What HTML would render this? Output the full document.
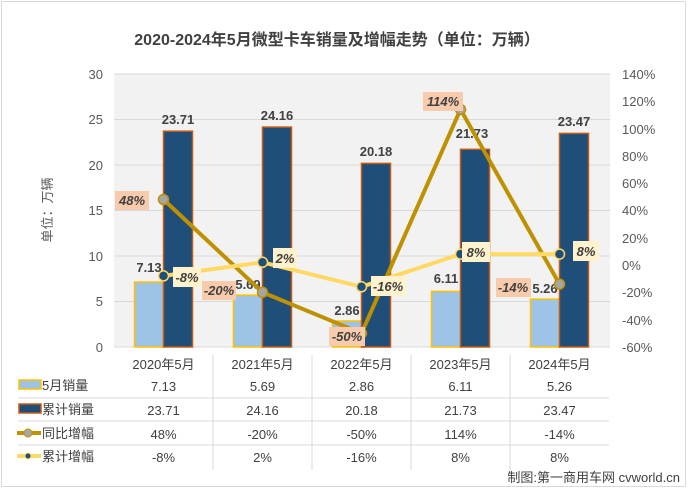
<!DOCTYPE html>
<html><head><meta charset="utf-8"><style>
body{margin:0;background:#fff}
svg{display:block;font-family:"Liberation Sans","Noto Sans CJK SC",sans-serif}
</style></head><body>
<svg width="688" height="490" viewBox="0 0 688 490">
<rect x="1.5" y="1.5" width="684" height="485" fill="#fff" stroke="#d9d9d9"/>
<text x="337" y="45" text-anchor="middle" font-size="16" font-weight="bold" fill="#404040">2020-2024年5月微型卡车销量及增幅走势（单位：万辆）</text>
<rect x="114" y="74" width="496" height="273" fill="#f2f2f2"/>
<g stroke="#d9d9d9" stroke-width="1">
<line x1="114" x2="610" y1="74" y2="74"/><line x1="114" x2="610" y1="119.5" y2="119.5"/><line x1="114" x2="610" y1="165" y2="165"/><line x1="114" x2="610" y1="210.5" y2="210.5"/><line x1="114" x2="610" y1="256" y2="256"/><line x1="114" x2="610" y1="301.5" y2="301.5"/><line x1="114" x2="610" y1="347" y2="347"/>
</g>
<g font-size="13" fill="#595959" text-anchor="end">
<text x="103" y="79">30</text><text x="103" y="124">25</text><text x="103" y="170">20</text><text x="103" y="215">15</text><text x="103" y="261">10</text><text x="103" y="306">5</text><text x="103" y="352">0</text>
</g>
<g font-size="13" fill="#595959" text-anchor="start">
<text x="622" y="79">140%</text><text x="622" y="106">120%</text><text x="622" y="134">100%</text><text x="622" y="161">80%</text><text x="622" y="188">60%</text><text x="622" y="215">40%</text><text x="622" y="243">20%</text><text x="622" y="270">0%</text><text x="622" y="297">-20%</text><text x="622" y="325">-40%</text><text x="622" y="352">-60%</text>
</g>
<text transform="translate(52,210) rotate(-90)" text-anchor="middle" font-size="13" fill="#595959">单位：万辆</text>
<!-- bars -->
<g fill="#9dc3e6" stroke="#ffc000" stroke-width="1.5">
<rect x="134.5" y="282.1" width="29" height="64.9"/>
<rect x="233.5" y="295.2" width="29" height="51.8"/>
<rect x="332.5" y="321" width="29" height="26"/>
<rect x="431.5" y="291.4" width="29" height="55.6"/>
<rect x="530.5" y="299.1" width="29" height="47.9"/>
</g>
<g fill="#1f4e79" stroke="#c55a11" stroke-width="1.5">
<rect x="163.5" y="131.2" width="29" height="215.8"/>
<rect x="262.5" y="127.1" width="29" height="219.9"/>
<rect x="361.5" y="163.4" width="29" height="183.6"/>
<rect x="460.5" y="149.3" width="29" height="197.7"/>
<rect x="559.5" y="133.4" width="29" height="213.6"/>
</g>
<g font-size="13" font-weight="bold" fill="#404040" text-anchor="middle">
<text x="178" y="124">23.71</text><text x="277" y="120">24.16</text><text x="376" y="156">20.18</text><text x="472" y="138">21.73</text><text x="574" y="126">23.47</text>
<text x="149" y="272">7.13</text><text x="248" y="289">5.69</text><text x="347" y="315">2.86</text><text x="446" y="283">6.11</text><text x="545" y="293">5.26</text>
</g>
<!-- lines -->
<polyline points="163.5,199.5 262.5,292.3 361.5,333.3 460.5,109.4 559.5,284.1" fill="none" stroke="#bf9000" stroke-width="4" stroke-linejoin="round"/>
<polyline points="163.5,275.9 262.5,262.3 361.5,286.8 460.5,254.1 559.5,254.1" fill="none" stroke="#ffd966" stroke-width="4" stroke-linejoin="round"/>
<g fill="#a6a6a6" stroke="#bf9000" stroke-width="1.5">
<circle cx="163.5" cy="199.5" r="5"/><circle cx="262.5" cy="292.3" r="5"/><circle cx="361.5" cy="333.3" r="5"/><circle cx="460.5" cy="109.4" r="5"/><circle cx="559.5" cy="284.1" r="5"/>
</g>
<g fill="#1f4e79" stroke="#ffd966" stroke-width="1.5">
<circle cx="163.5" cy="275.9" r="5"/><circle cx="262.5" cy="262.3" r="5"/><circle cx="361.5" cy="286.8" r="5"/><circle cx="460.5" cy="254.1" r="5"/><circle cx="559.5" cy="254.1" r="5"/>
</g>
<!-- pct labels -->
<g font-size="13" font-weight="bold" font-style="italic" fill="#404040" text-anchor="middle">
<rect x="115" y="191" width="34" height="19" fill="#f8cbad"/><text x="132" y="205">48%</text>
<rect x="202" y="281" width="34" height="19" fill="#f8cbad"/><text x="219" y="295">-20%</text>
<rect x="329" y="327" width="36" height="19" fill="#f8cbad"/><text x="347" y="341">-50%</text>
<rect x="423" y="92" width="40" height="19" fill="#f8cbad"/><text x="443" y="106">114%</text>
<rect x="496" y="278" width="35" height="19" fill="#f8cbad"/><text x="513" y="292">-14%</text>
<rect x="173" y="267" width="28" height="20" fill="#fff2cc"/><text x="187" y="282">-8%</text>
<rect x="273" y="248" width="24" height="20" fill="#fff2cc"/><text x="285" y="263">2%</text>
<rect x="371" y="276" width="35" height="20" fill="#fff2cc"/><text x="388" y="291">-16%</text>
<rect x="462" y="242" width="28" height="20" fill="#fff2cc"/><text x="476" y="257">8%</text>
<rect x="573" y="241" width="26" height="20" fill="#fff2cc"/><text x="586" y="256">8%</text>
</g>
<!-- table -->
<g stroke="#d9d9d9" stroke-width="1">
<line x1="213" x2="213" y1="355" y2="470"/><line x1="312" x2="312" y1="355" y2="470"/><line x1="411" x2="411" y1="355" y2="470"/><line x1="510" x2="510" y1="355" y2="470"/>
<line x1="18" x2="609" y1="398" y2="398"/><line x1="18" x2="609" y1="421" y2="421"/><line x1="18" x2="609" y1="445" y2="445"/>
</g>
<g font-size="13" fill="#404040" text-anchor="middle">
<text x="163.5" y="369">2020年5月</text><text x="262.5" y="369">2021年5月</text><text x="361.5" y="369">2022年5月</text><text x="460.5" y="369">2023年5月</text><text x="559.5" y="369">2024年5月</text>
<text x="163.5" y="391">7.13</text><text x="262.5" y="391">5.69</text><text x="361.5" y="391">2.86</text><text x="460.5" y="391">6.11</text><text x="559.5" y="391">5.26</text>
<text x="163.5" y="415">23.71</text><text x="262.5" y="415">24.16</text><text x="361.5" y="415">20.18</text><text x="460.5" y="415">21.73</text><text x="559.5" y="415">23.47</text>
<text x="163.5" y="439">48%</text><text x="262.5" y="439">-20%</text><text x="361.5" y="439">-50%</text><text x="460.5" y="439">114%</text><text x="559.5" y="439">-14%</text>
<text x="163.5" y="462">-8%</text><text x="262.5" y="462">2%</text><text x="361.5" y="462">-16%</text><text x="460.5" y="462">8%</text><text x="559.5" y="462">8%</text>
</g>
<rect x="19" y="380" width="22" height="9" fill="#9dc3e6" stroke="#ffc000" stroke-width="1.5"/>
<rect x="19" y="404" width="22" height="9" fill="#1f4e79" stroke="#c55a11" stroke-width="1.5"/>
<line x1="17" x2="41" y1="433" y2="433" stroke="#bf9000" stroke-width="4"/><circle cx="28" cy="433" r="4" fill="#a6a6a6" stroke="#bf9000"/>
<line x1="17" x2="41" y1="456" y2="456" stroke="#ffd966" stroke-width="4"/><circle cx="28" cy="456" r="3" fill="#1f4e79" stroke="#ffd966"/>
<g font-size="13" fill="#404040">
<text x="42" y="390">5月销量</text><text x="42" y="414">累计销量</text><text x="42" y="438">同比增幅</text><text x="42" y="461">累计增幅</text>
</g>
<text x="680" y="482" text-anchor="end" font-size="13" fill="#404040">制图:第一商用车网 cvworld.cn</text>
</svg>
</body></html>
